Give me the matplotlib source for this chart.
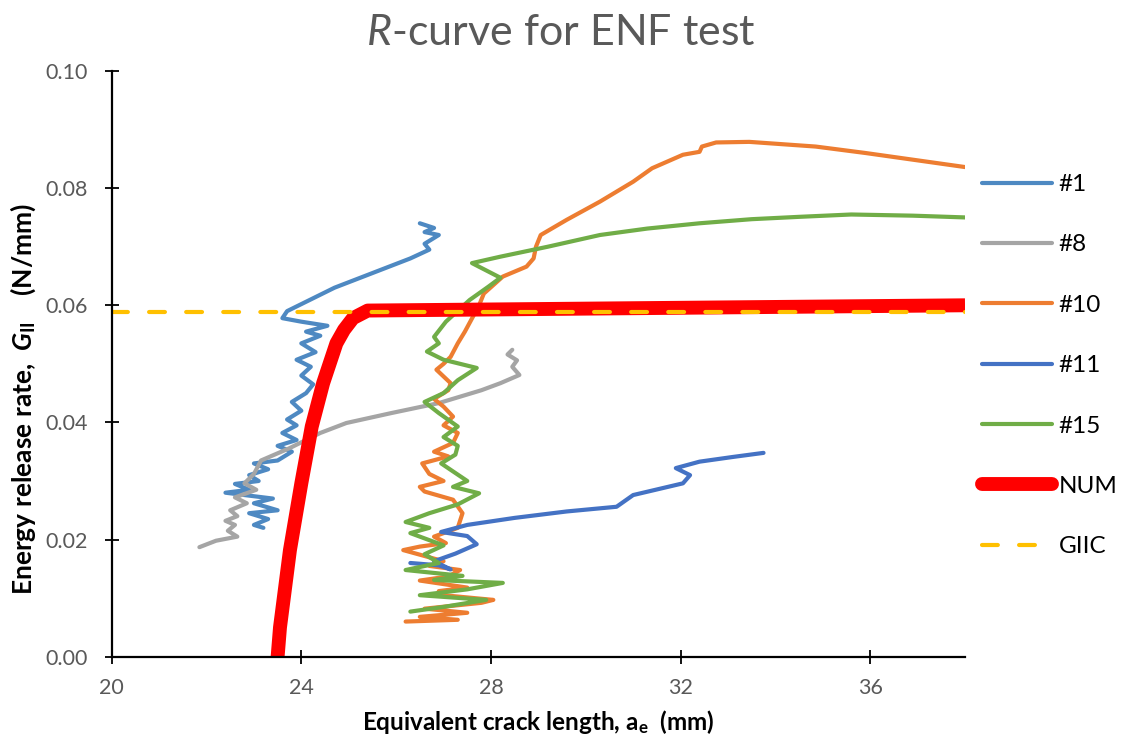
import matplotlib
matplotlib.use("Agg")
import matplotlib.pyplot as plt
from matplotlib.lines import Line2D

plt.rcParams['font.family'] = ['Lato', 'DejaVu Sans']
plt.rcParams['mathtext.fontset'] = 'custom'
plt.rcParams['mathtext.rm'] = 'Lato'
plt.rcParams['mathtext.it'] = 'Lato:italic'
plt.rcParams['mathtext.bf'] = 'Lato:bold'
plt.rcParams['mathtext.bfit'] = 'Lato:bold:italic'

# Specimen #1
a1 = [23.2, 23.0, 23.3, 22.9, 23.5, 23.0, 23.4, 22.4, 22.9, 22.6, 23.1, 22.9, 23.3, 23.0,
      23.5, 23.8, 23.5, 23.9, 23.6, 23.9, 23.7, 24.0, 23.8, 24.1, 24.25, 24.0, 24.2, 23.9,
      24.3, 24.0, 24.4, 24.1, 24.55, 24.0, 23.6, 23.7, 24.7, 25.5, 26.3, 26.7, 26.6, 26.9,
      26.6, 26.8, 26.5]
g1 = [0.0220, 0.0225, 0.0235, 0.0245, 0.0250, 0.0262, 0.0270, 0.0280, 0.0285, 0.0295, 0.0300,
      0.0310, 0.0320, 0.0330, 0.0335, 0.0350, 0.0360, 0.0370, 0.0382, 0.0395, 0.0405, 0.0420,
      0.0435, 0.0450, 0.0465, 0.0480, 0.0495, 0.0507, 0.0520, 0.0535, 0.0548, 0.0555, 0.0565,
      0.0572, 0.0578, 0.0590, 0.0630, 0.0655, 0.0680, 0.0695, 0.0705, 0.0720, 0.0725, 0.0732,
      0.0740]

# Specimen #8
a8 = [21.85, 22.2, 22.65, 22.45, 22.6, 22.4, 22.65, 22.5, 22.85, 22.6, 23.05, 22.8, 23.0,
      23.15, 23.75, 24.4, 24.95, 25.9, 26.9, 27.8, 28.2, 28.6, 28.45, 28.55, 28.35, 28.45]
g8 = [0.0187, 0.0198, 0.0205, 0.0215, 0.0225, 0.0232, 0.0240, 0.0250, 0.0262, 0.0272, 0.0285,
      0.0296, 0.0312, 0.0335, 0.0356, 0.0382, 0.0399, 0.0416, 0.0433, 0.0455, 0.0467, 0.0481,
      0.0495, 0.0506, 0.0516, 0.0524]

# Specimen #10
a10 = [26.2, 27.3, 26.5, 27.5, 26.6, 27.8, 28.05, 27.0, 26.9, 27.5, 26.5, 27.1, 27.35, 26.7,
       27.0, 26.15, 26.5, 27.05, 26.8, 27.3, 27.4, 27.2, 26.6, 26.5, 27.0, 26.7, 26.55, 27.1,
       26.8, 27.2, 27.3, 27.0, 27.2, 27.0, 26.8, 27.1, 27.15, 26.85, 27.0, 27.15, 27.3, 27.45,
       27.55, 27.75, 27.85, 28.25, 28.75, 28.9, 28.95, 29.05, 29.6, 30.3, 31.0, 31.4, 32.05,
       32.4, 32.45, 32.75, 33.45, 34.85, 35.9, 36.95, 38.0]
g10 = [0.0060, 0.0063, 0.0068, 0.0075, 0.0082, 0.0092, 0.0097, 0.0105, 0.0112, 0.0118, 0.0130,
       0.0137, 0.0148, 0.0155, 0.0163, 0.0182, 0.0188, 0.0194, 0.0205, 0.0220, 0.0245, 0.0268,
       0.0282, 0.0290, 0.0300, 0.0312, 0.0330, 0.0342, 0.0350, 0.0365, 0.0382, 0.0395, 0.0410,
       0.0427, 0.0440, 0.0455, 0.0467, 0.0490, 0.0500, 0.0512, 0.0535, 0.0555, 0.0570, 0.0600,
       0.0620, 0.0649, 0.0666, 0.0680, 0.0700, 0.0720, 0.0746, 0.0777, 0.0811, 0.0834, 0.0857,
       0.0862, 0.0871, 0.0878, 0.0879, 0.0871, 0.0860, 0.0848, 0.0836]

# Specimen #11
a11 = [26.3, 26.9, 27.15, 26.8, 27.25, 27.7, 27.5, 26.95, 27.5, 28.5, 29.6, 30.65, 31.0,
       32.05, 32.2, 31.9, 32.4, 33.1, 33.75]
g11 = [0.0160, 0.0156, 0.0149, 0.0163, 0.0176, 0.0192, 0.0206, 0.0213, 0.0225, 0.0237, 0.0248,
       0.0256, 0.0276, 0.0296, 0.0310, 0.0322, 0.0333, 0.0341, 0.0348]

# Specimen #15
a15 = [26.3, 27.0, 27.9, 26.5, 27.5, 28.25, 26.8, 27.4, 26.2, 26.9, 26.6, 27.0, 26.3, 26.7,
       26.2, 26.7, 27.3, 27.75, 27.2, 27.5, 26.95, 27.25, 27.3, 27.0, 27.3, 26.9, 26.6, 27.0,
       27.3, 27.7, 27.0, 26.65, 26.9, 26.8, 27.05, 27.55, 27.95, 28.2, 27.6, 28.2, 29.2, 30.3,
       31.3, 32.4, 33.5, 34.5, 35.6, 36.9, 38.0]
g15 = [0.0077, 0.0085, 0.0097, 0.0105, 0.0115, 0.0126, 0.0131, 0.0138, 0.0148, 0.0160, 0.0175,
       0.0190, 0.0211, 0.0220, 0.0230, 0.0245, 0.0260, 0.0279, 0.0290, 0.0300, 0.0330, 0.0345,
       0.0360, 0.0375, 0.0393, 0.0416, 0.0435, 0.0450, 0.0472, 0.0493, 0.0507, 0.0521, 0.0535,
       0.0546, 0.0572, 0.0609, 0.0632, 0.0647, 0.0672, 0.0683, 0.0700, 0.0720, 0.0731, 0.0740,
       0.0747, 0.0751, 0.0755, 0.0753, 0.0750]

# Numerical R-curve
a_num = [23.5, 23.55, 23.76, 24.0, 24.22, 24.46, 24.74, 24.9, 25.09, 25.4, 38.0]
g_num = [0.0, 0.005, 0.0182, 0.0296, 0.0393, 0.0467, 0.0535, 0.0558, 0.0578, 0.0591, 0.0600]

# Critical mode II energy release rate
giic = 0.0588
a_giic = [20.0, 38.0]

series = [
    ("#1", a1, g1, "#4E89C2"),
    ("#8", a8, g8, "#A5A5A5"),
    ("#10", a10, g10, "#ED7D31"),
    ("#11", a11, g11, "#4472C4"),
    ("#15", a15, g15, "#70AD47"),
]

fig = plt.figure(figsize=(11.21, 7.44), dpi=100)
ax = fig.add_axes([111.7 / 1121, 87.3 / 744, (965 - 111.7) / 1121, (656.7 - 71) / 744])

handles = []
for name, xs, ys, col in series:
    ln, = ax.plot(xs, ys, color=col, lw=3.0, solid_capstyle='round',
                  solid_joinstyle='round', label=name)
    handles.append(ln)

num, = ax.plot(a_num, g_num, color="#FF0000", lw=10, solid_capstyle='butt',
               solid_joinstyle='round', label="NUM")
gl, = ax.plot(a_giic, [giic, giic], color="#FFC000", lw=3, dashes=(3.8, 5.1),
              dash_capstyle='round', label="GIIC")

ax.set_xlim(20, 38)
ax.set_ylim(0, 0.10)
ax.set_xticks([20, 24, 28, 32, 36])
ax.set_yticks([0.0, 0.02, 0.04, 0.06, 0.08, 0.10])
ax.set_yticklabels([f"{v:.2f}" for v in [0.0, 0.02, 0.04, 0.06, 0.08, 0.10]])

for s in ("top", "right"):
    ax.spines[s].set_visible(False)
for s in ("left", "bottom"):
    ax.spines[s].set_linewidth(1.6)
    ax.spines[s].set_color("black")
ax.tick_params(axis='both', direction='inout', length=10, width=1.3, color='black',
               labelsize=15.5, labelcolor='#595959')
ax.tick_params(axis='x', pad=10)
ax.tick_params(axis='y', pad=12)

ax.set_xlabel(r"Equivalent crack length, a$_\mathbf{e}$  (mm)", fontsize=17.5,
              fontweight='bold')
ax.set_ylabel(r"Energy release rate,  $\mathbfit{G}_{\mathbf{II}}$    (N/mm)", fontsize=19,
              fontweight='bold')
ax.xaxis.set_label_coords(0.5, -0.087)
ax.yaxis.set_label_coords(-0.086, 0.44)

fig.text(0.5, 0.955, r"$\mathit{R}$-curve for ENF test", ha='center', va='center',
         fontsize=31, color='#595959')

leg_handles = handles + [Line2D([], [], color="#FF0000", lw=10, solid_capstyle='round'),
                         Line2D([], [], color="#FFC000", lw=3, dashes=(3.8, 5.1),
                                dash_capstyle='round')]
leg = fig.legend(leg_handles, ["#1", "#8", "#10", "#11", "#15", "NUM", "GIIC"],
                 loc='upper left', bbox_to_anchor=(982 / 1121, 1 - 174 / 744),
                 frameon=False, fontsize=17.5, handlelength=2.9, handletextpad=0.25,
                 labelspacing=1.62, borderpad=0, borderaxespad=0)

fig.savefig("out.png", dpi=100)
